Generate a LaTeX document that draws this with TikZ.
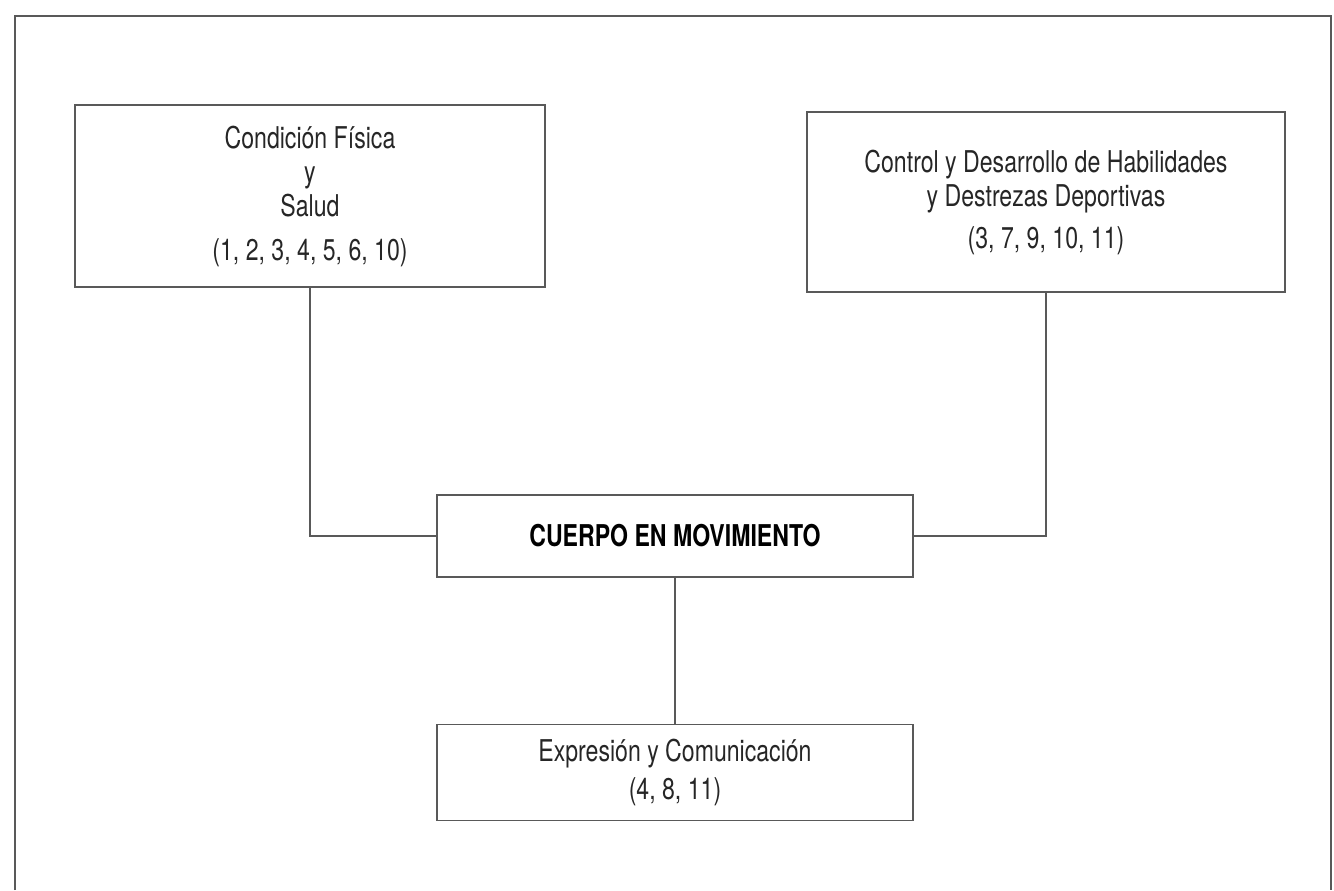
\documentclass[tikz,border=0pt]{standalone}
\usepackage{fontspec}
\setmainfont[FakeStretch=0.77]{TeX Gyre Heros}
\usepackage{tikz}
\usetikzlibrary{positioning}
\tikzstyle{link} = [draw=black!65, line width=0.8pt]
\tikzstyle{block} = [rectangle, draw=black!65, line width=0.8pt, text centered, align=center, inner sep=0pt, text=black!85, font=\fontsize{15}{17}\selectfont]

\begin{document}
\begin{tikzpicture}[x=0.5pt, y=-0.5pt]
    \useasboundingbox (0,0) rectangle (1334,890);
    % Outer frame
    \draw[link] (15,890) -- (15,16) -- (1331,16) -- (1331,890);

    % Areas
    \node[block, minimum width=235pt, minimum height=91pt] (salud) at (310,196) {Condición Física\\y\\Salud\\[5pt](1, 2, 3, 4, 5, 6, 10)};
    \node[block, minimum width=239pt, minimum height=90pt] (destrezas) at (1046,202) {Control y Desarrollo de Habilidades\\y Destrezas Deportivas\\[4pt](3, 7, 9, 10, 11)};
    \node[block, minimum width=238pt, minimum height=41pt, text=black, font=\fontsize{15}{17}\selectfont\bfseries] (cuerpo) at (675,536) {CUERPO EN MOVIMIENTO};
    \node[block, minimum width=238pt, minimum height=48pt, below=73pt of cuerpo] (expresion) {Expresión y Comunicación\\[2pt](4, 8, 11)};

    % Connections
    \draw[link] (salud.south) |- (cuerpo.west);
    \draw[link] (destrezas.south) |- (cuerpo.east);
    \draw[link] (cuerpo.south) -- (expresion.north);
\end{tikzpicture}
\end{document}
